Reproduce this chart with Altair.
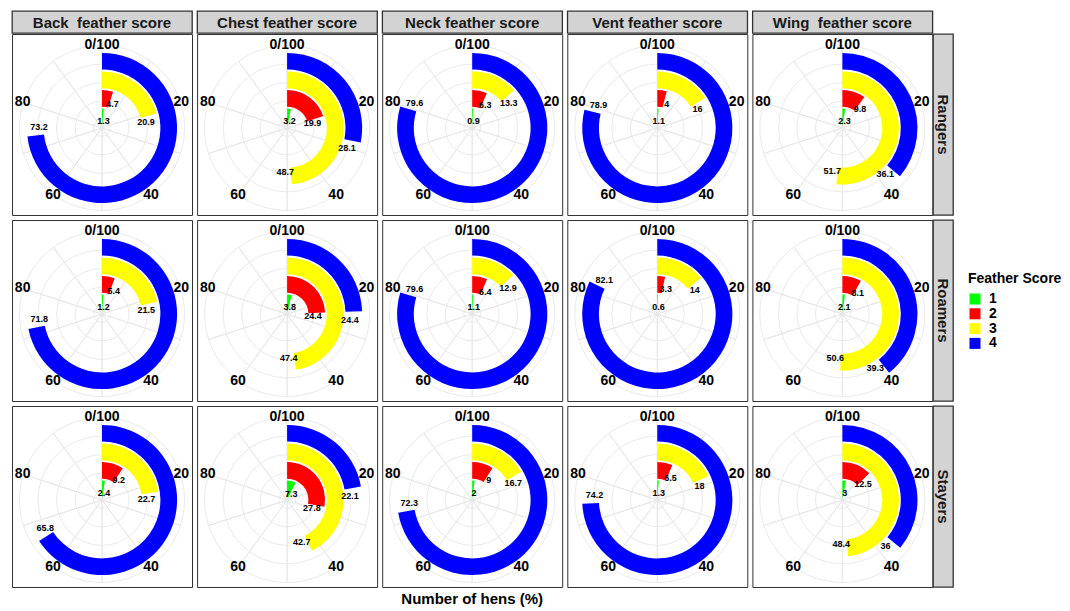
import altair as alt
import pandas as pd

# ---------------- data ----------------
groups = ["Rangers", "Roamers", "Stayers"]
regions = ["Back", "Chest", "Neck", "Vent", "Wing"]
region_titles = ["Back\u00a0 feather score", "Chest feather score", "Neck feather score",
                 "Vent feather score", "Wing\u00a0 feather score"]
scores = [1, 2, 3, 4]
score_colors = ["#00ff00", "#ff0000", "#ffff00", "#0000ff"]

# percentages of hens per feather score 1..4
rangers = {
    "Back": [1.3, 4.7, 20.9, 73.2],
    "Chest": [3.2, 19.9, 48.7, 28.1],
    "Neck": [0.9, 6.3, 13.3, 79.6],
    "Vent": [1.1, 4, 16, 78.9],
    "Wing": [2.3, 9.8, 51.7, 36.1],
}
roamers = {
    "Back": [1.2, 5.4, 21.5, 71.8],
    "Chest": [3.8, 24.4, 47.4, 24.4],
    "Neck": [1.1, 6.4, 12.9, 79.6],
    "Vent": [0.6, 3.3, 14, 82.1],
    "Wing": [2.1, 8.1, 50.6, 39.3],
}
stayers = {
    "Back": [2.4, 9.2, 22.7, 65.8],
    "Chest": [7.3, 27.8, 42.7, 22.1],
    "Neck": [2, 9, 16.7, 72.3],
    "Vent": [1.3, 6.5, 18, 74.2],
    "Wing": [3, 12.5, 48.4, 36],
}
group_values = {"Rangers": rangers, "Roamers": roamers, "Stayers": stayers}

theta_ticks = [0, 20, 40, 60, 80]
theta_tick_labels = ["0/100", "20", "40", "60", "80"]
spoke_angles = [0, 10, 20, 30, 40, 50, 60, 70, 80, 90]
grid_circles = [0.85, 1.85, 2.85, 3.85, 4.85]

records = []
for g in groups:
    for r in regions:
        for s, v in zip(scores, group_values[g][r]):
            records.append({"group": g, "region": r, "score": s, "value": v})
df = pd.DataFrame(records)

circles_df = pd.DataFrame({"r": grid_circles})
spokes_df = pd.DataFrame({"a": spoke_angles})
ticks_df = pd.DataFrame({"t": theta_ticks, "label": theta_tick_labels})

# ---------------- styling ----------------
FONT = "Liberation Sans"
GRID = "#e6e6e6"
PW, PH = 180, 181
CX, CY = 90, 94
SP = 3.1      # gap between panels (horizontal)
RSP = 3       # gap between panel rows

theta_scale = alt.Scale(domain=[0, 100], range=[0, 6.283185307179586])
r_scale = alt.Scale(type="linear", domain=[0.4, 4.85], range=[0, 82.5], zero=False)


def panel(g, r):
    sub = df[(df.group == g) & (df.region == r)]
    cx, cy = alt.value(CX), alt.value(CY)
    circles = alt.Chart(circles_df).transform_calculate(t0="0", t1="100").mark_arc(
        filled=False, stroke=GRID, strokeWidth=0.9
    ).encode(
        theta=alt.Theta("t0:Q", scale=theta_scale, stack=False),
        theta2="t1:Q",
        radius=alt.Radius("r:Q", scale=r_scale),
        x=cx, y=cy,
    )
    spokes = alt.Chart(spokes_df).transform_calculate(rmax="4.85").mark_arc(
        filled=False, stroke=GRID, strokeWidth=0.9
    ).encode(
        theta=alt.Theta("a:Q", scale=theta_scale, stack=False),
        theta2="a:Q",
        radius=alt.Radius("rmax:Q", scale=r_scale),
        x=cx, y=cy,
    )
    bars = alt.Chart(sub).transform_calculate(
        t0="0", r0="datum.score - 0.45", r1="datum.score + 0.45"
    ).mark_arc().encode(
        theta=alt.Theta("t0:Q", scale=theta_scale, stack=False),
        theta2="value:Q",
        radius=alt.Radius("r0:Q", scale=r_scale),
        radius2="r1:Q",
        color=alt.Color(
            "score:N",
            scale=alt.Scale(domain=scores, range=score_colors),
            legend=alt.Legend(
                title="Feather Score", orient="none", legendX=956, legendY=261,
                padding=0,
                titleFont=FONT, titleFontSize=14, titleFontWeight="bold", titleColor="black",
                titlePadding=6,
                labelFont=FONT, labelFontSize=14, labelFontWeight="bold", labelColor="black",
                labelOffset=7, symbolType="square", symbolSize=121, symbolStrokeWidth=0,
                rowPadding=0.8,
            ),
        ),
        x=cx, y=cy,
    )
    # value labels sit just past the end of each bar
    labels = alt.Chart(sub).transform_calculate(
        ta="datum.value + 2", ra="datum.score - 0.2"
    ).mark_text(
        font=FONT, fontSize=9, fontWeight="bold", color="black"
    ).encode(
        theta=alt.Theta("ta:Q", scale=theta_scale, stack=False),
        radius=alt.Radius("ra:Q", scale=r_scale),
        text=alt.Text("value:Q"),
        x=cx, y=cy,
    )
    ticks = alt.Chart(ticks_df).transform_calculate(rt="4.9").mark_text(
        font=FONT, fontSize=14, fontWeight="bold", color="black"
    ).encode(
        theta=alt.Theta("t:Q", scale=theta_scale, stack=False),
        radius=alt.Radius("rt:Q", scale=r_scale),
        text="label:N",
        x=cx, y=cy,
    )
    return alt.layer(circles, spokes, bars, labels, ticks).properties(
        width=PW, height=PH,
        view=alt.ViewBackground(fill="white", stroke="#333333", strokeWidth=1),
    )


def col_strip(title):
    return alt.Chart(pd.DataFrame({"t": [title]})).mark_text(
        font=FONT, fontSize=15, fontWeight="bold", color="#1a1a1a", baseline="middle"
    ).encode(text="t:N", x=alt.value(PW / 2), y=alt.value(12)).properties(
        width=PW, height=22,
        view=alt.ViewBackground(fill="#d3d3d3", stroke="#333333", strokeWidth=1.3),
    )


def row_strip(g):
    return alt.Chart(pd.DataFrame({"t": [g]})).mark_text(
        font=FONT, fontSize=15, fontWeight="bold", color="#1a1a1a", angle=90,
        baseline="middle"
    ).encode(text="t:N", x=alt.value(10), y=alt.value(PH / 2)).properties(
        width=20, height=PH,
        view=alt.ViewBackground(fill="#d3d3d3", stroke="#333333", strokeWidth=1.3),
    )


strip_row = alt.hconcat(*[col_strip(t) for t in region_titles], spacing=SP)
row_charts = [
    alt.hconcat(
        alt.hconcat(*[panel(g, r) for r in regions], spacing=SP),
        row_strip(g),
        spacing=-1.1,
    )
    for g in groups
]
top = alt.vconcat(strip_row, row_charts[0], spacing=-1.1)

AW = 5 * (PW + 1) + 4 * SP
axis_title = alt.Chart(pd.DataFrame({"t": ["Number of hens (%)"]})).mark_text(
    font=FONT, fontSize=15, fontWeight="bold", color="black", baseline="middle"
).encode(text="t:N", x=alt.value(AW / 2 + 1.5), y=alt.value(4)).properties(
    width=AW, height=11,
    view=alt.ViewBackground(stroke="transparent", fill="transparent"),
)

chart = alt.vconcat(
    top, row_charts[1], row_charts[2], axis_title, spacing=RSP
).properties(
    padding={"left": 3, "top": 2, "right": 0, "bottom": 0}
).configure(font=FONT).configure_view(stroke="transparent")

chart.save("out.html", embed_options={"renderer": "svg", "actions": False})
